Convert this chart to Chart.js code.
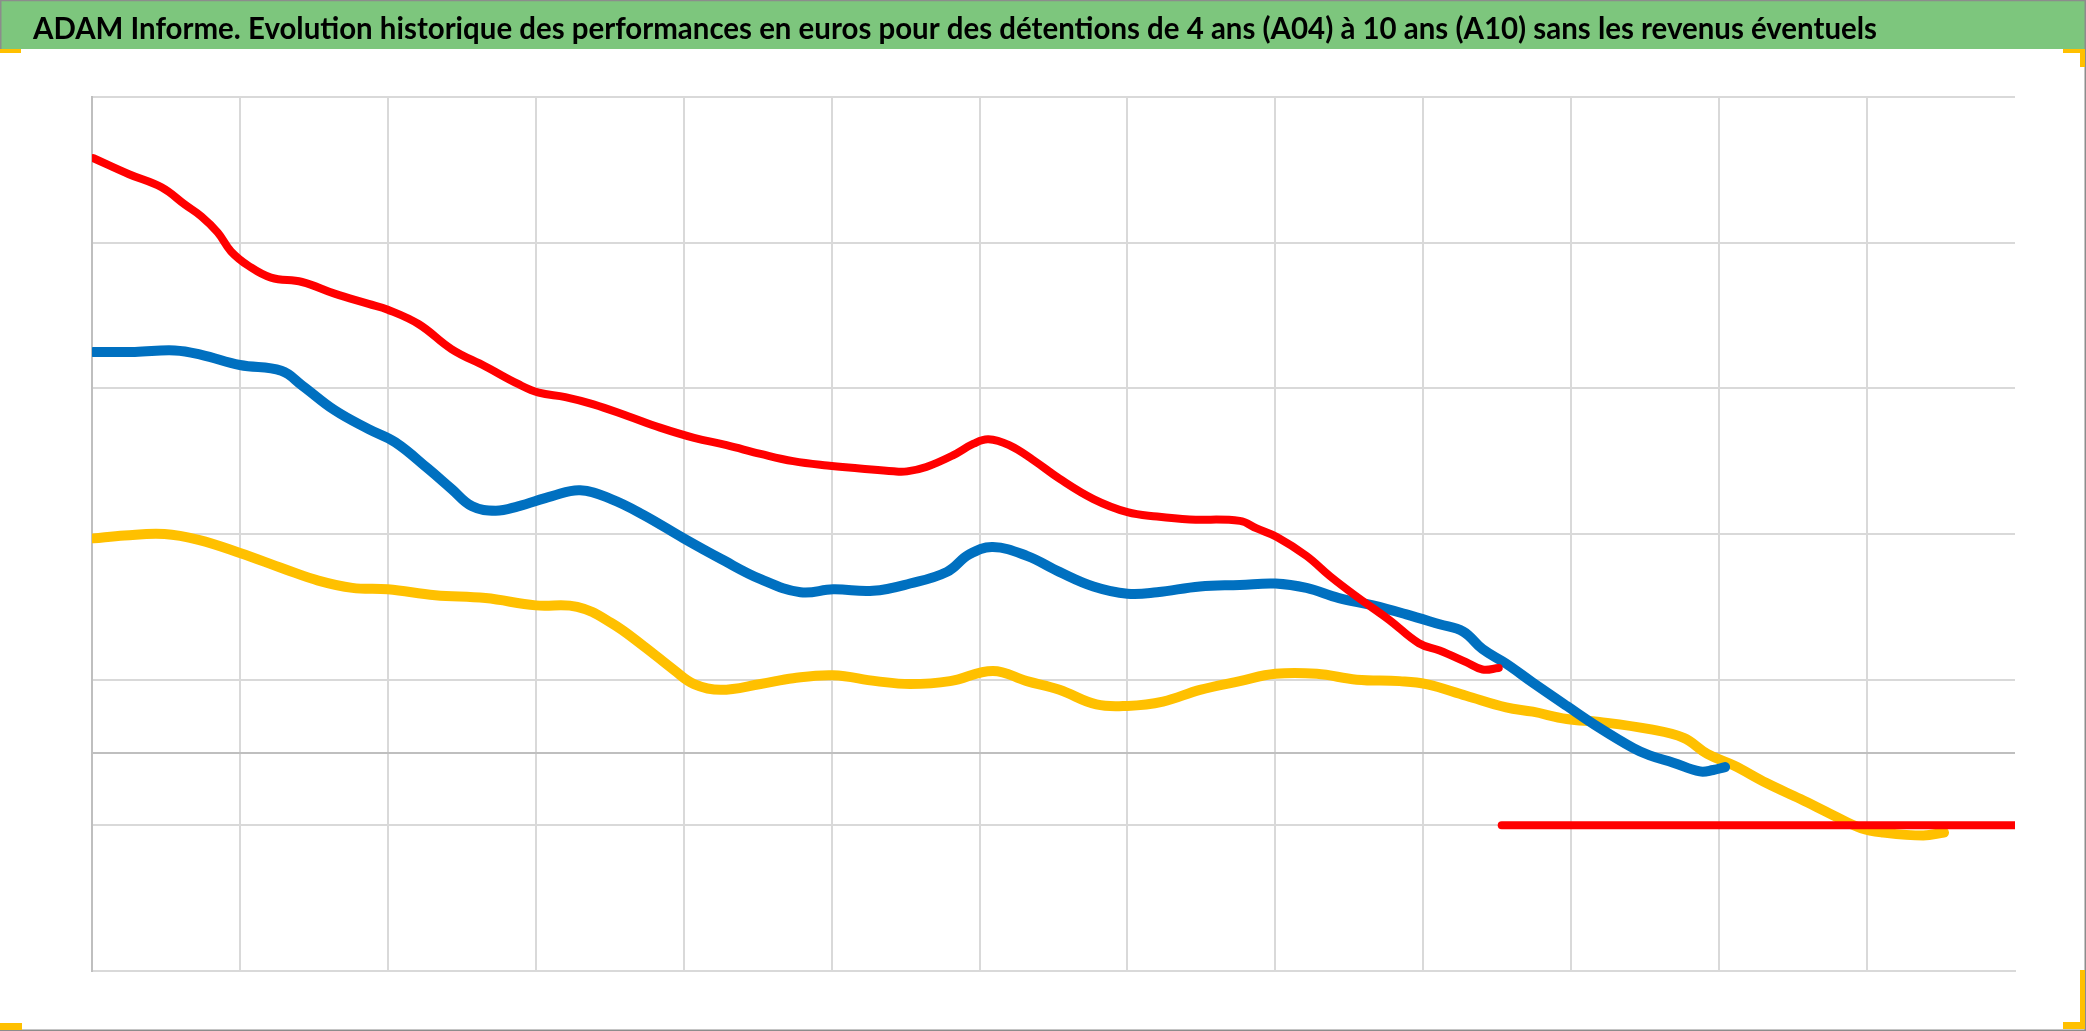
<!DOCTYPE html>
<html lang="fr">
<head>
<meta charset="utf-8">
<title>ADAM Informe</title>
<script src="https://cdn.jsdelivr.net/npm/chart.js@4.4.1/dist/chart.umd.min.js"></script>
<style>
  html, body { margin: 0; padding: 0; background: #fff; overflow: hidden; }
  #wrap { width: 2086px; height: 1031px; position: relative; }
</style>
</head>
<body>
<div id="wrap"><canvas id="perfChart"></canvas></div>
<script>
const titre = 'ADAM Informe. Evolution historique des performances en euros pour des détentions de 4 ans (A04) à 10 ans (A10) sans les revenus éventuels'

// position on the time axis (one unit = one vertical gridline) and value
const posRouge = [0.01,0.25,0.47,0.63,0.74,0.85,0.94,1.06,1.21,1.42,1.64,1.87,2.0,2.21,2.43,2.66,2.88,3.02,3.2,3.39,3.62,3.84,4.07,4.29,4.52,4.74,4.97,5.19,5.42,5.51,5.64,5.82,5.96,6.06,6.2,6.36,6.54,6.77,7.0,7.2,7.42,7.76,7.87,8.01,8.21,8.37,8.55,8.77,8.97,9.11,9.29,9.4,9.51]
const valRouge = [40.8,39.7,38.8,37.6,36.8,35.7,34.4,33.4,32.6,32.3,31.5,30.8,30.4,29.4,27.7,26.5,25.3,24.7,24.4,23.9,23.1,22.3,21.6,21.1,20.5,20.0,19.7,19.5,19.3,19.3,19.6,20.4,21.2,21.5,21.1,20.1,18.8,17.4,16.5,16.2,16.0,15.9,15.4,14.8,13.5,12.1,10.7,9.1,7.5,7.0,6.2,5.7,5.8]

const posBleu = [0.01,0.29,0.56,0.74,1.0,1.28,1.42,1.64,1.87,2.05,2.27,2.43,2.57,2.73,2.88,3.11,3.3,3.51,3.73,4.0,4.25,4.52,4.79,5.01,5.28,5.53,5.78,5.93,6.09,6.32,6.54,6.77,7.0,7.2,7.49,7.76,8.0,8.21,8.43,8.66,8.88,9.11,9.27,9.4,9.56,9.74,9.97,10.19,10.42,10.53,10.69,10.87,10.96,11.04]
const valBleu = [27.5,27.5,27.6,27.3,26.6,26.2,25.2,23.5,22.2,21.3,19.5,18.1,16.9,16.6,16.9,17.6,18.0,17.4,16.3,14.7,13.3,11.9,11.0,11.2,11.1,11.6,12.4,13.6,14.1,13.5,12.4,11.4,10.9,11.0,11.4,11.5,11.6,11.3,10.6,10.1,9.5,8.8,8.3,7.1,6.1,4.8,3.2,1.7,0.3,-0.2,-0.7,-1.3,-1.2,-1.0]

const posJaune = [0.01,0.22,0.49,0.72,1.0,1.3,1.53,1.76,2.0,2.32,2.66,3.0,3.28,3.51,3.73,3.93,4.07,4.25,4.52,4.74,5.01,5.3,5.53,5.8,6.09,6.32,6.54,6.79,7.0,7.24,7.49,7.76,8.0,8.28,8.55,8.84,9.02,9.29,9.56,9.74,9.97,10.19,10.53,10.76,10.92,11.1,11.32,11.55,11.77,11.96,12.11,12.38,12.52]
const valJaune = [14.7,14.9,15.0,14.6,13.7,12.6,11.8,11.3,11.2,10.8,10.6,10.1,10.0,8.9,7.3,5.7,4.7,4.3,4.7,5.1,5.3,4.9,4.7,4.9,5.6,4.9,4.3,3.3,3.2,3.5,4.3,4.9,5.4,5.4,5.0,4.9,4.7,3.9,3.1,2.8,2.3,2.1,1.6,1.0,-0.1,-0.9,-2.1,-3.2,-4.3,-5.2,-5.5,-5.7,-5.5]

// flat "no data" level once the series stop
const posPlat = [9.53, 13.0]
const valPlat = [-5, -5]

const yMin = -15, yMax = 45, yStep = 10
const xMin = 0, xMax = 13

const pts = (xs, ys) => xs.map((x, i) => ({ x: x, y: ys[i] }))

// title bar, frame, excel handles, zero line
const cadre = {
  id: 'cadre',
  beforeDraw(chart) {
    const ctx = chart.ctx, w = chart.width
    ctx.save()
    ctx.fillStyle = '#fff'
    ctx.fillRect(0, 0, w, chart.height)
    ctx.fillStyle = '#7dc67d'
    ctx.fillRect(0, 0, w, 49)
    ctx.font = 'bold 30px Lato, "Open Sans", sans-serif'
    ctx.fillStyle = '#000'
    ctx.textBaseline = 'alphabetic'
    const tw = ctx.measureText(titre).width
    ctx.translate(33, 39)
    ctx.scale(1844 / tw, 1)
    ctx.fillText(titre, 0, 0)
    ctx.restore()
  },
  beforeDatasetsDraw(chart) {
    const ctx = chart.ctx, area = chart.chartArea
    const y0 = Math.round(chart.scales.y.getPixelForValue(0))
    ctx.save()
    ctx.strokeStyle = '#bfbfbf'
    ctx.lineWidth = 2
    ctx.beginPath()
    ctx.moveTo(area.left, y0)
    ctx.lineTo(area.right, y0)
    ctx.stroke()
    ctx.restore()
  },
  afterDraw(chart) {
    const ctx = chart.ctx, w = chart.width, h = chart.height
    ctx.save()
    ctx.strokeStyle = '#8c8c8c'
    ctx.lineWidth = 1.5
    ctx.beginPath()
    ctx.moveTo(0, 0.5); ctx.lineTo(w, 0.5)
    ctx.moveTo(w - 0.75, 0); ctx.lineTo(w - 0.75, h)
    ctx.moveTo(0, h - 0.75); ctx.lineTo(w, h - 0.75)
    ctx.moveTo(0.75, 0); ctx.lineTo(0.75, 49)
    ctx.stroke()
    ctx.fillStyle = '#ffc000'
    ctx.fillRect(0, 49, 21, 4)
    ctx.fillRect(2063, 49, 22, 4)
    ctx.fillRect(2080, 49, 5, 18)
    ctx.fillRect(2080, 970, 5, 58)
    ctx.fillRect(2063, 1022, 22, 7)
    ctx.fillRect(0, 1023, 22, 7)
    ctx.restore()
  }
}

new Chart(document.getElementById('perfChart'), {
  type: 'line',
  data: {
    datasets: [
      {
        label: 'A04',
        data: pts(posRouge, valRouge),
        borderColor: '#ff0000',
        borderWidth: 8
      },
      {
        label: 'Niveau',
        data: pts(posPlat, valPlat),
        borderColor: '#ff0000',
        borderWidth: 8
      },
      {
        label: 'A07',
        data: pts(posBleu, valBleu),
        borderColor: '#0070c0',
        borderWidth: 10
      },
      {
        label: 'A10',
        data: pts(posJaune, valJaune),
        borderColor: '#ffc000',
        borderWidth: 10
      }
    ]
  },
  options: {
    responsive: true,
    maintainAspectRatio: false,
    animation: false,
    layout: { padding: { left: 92, right: 71, top: 97, bottom: 60 } },
    elements: {
      point: { radius: 0 },
      line: { tension: 0.4, borderCapStyle: 'round', borderJoinStyle: 'round', fill: false }
    },
    plugins: {
      legend: { display: false },
      tooltip: { enabled: false },
      title: { display: false }
    },
    scales: {
      x: {
        type: 'linear',
        min: xMin,
        max: xMax,
        ticks: { display: false, stepSize: 1 },
        grid: {
          drawTicks: false,
          lineWidth: 2,
          color: c => c.tick.value === xMax ? 'rgba(0,0,0,0)' : (c.tick.value === xMin ? '#bfbfbf' : '#d9d9d9')
        },
        border: { color: '#d9d9d9', width: 2 }
      },
      y: {
        min: yMin,
        max: yMax,
        ticks: { display: false, stepSize: yStep },
        grid: { drawTicks: false, lineWidth: 2, color: '#d9d9d9' },
        border: { color: '#bfbfbf', width: 2 }
      }
    }
  },
  plugins: [cadre]
})
</script>
</body>
</html>
